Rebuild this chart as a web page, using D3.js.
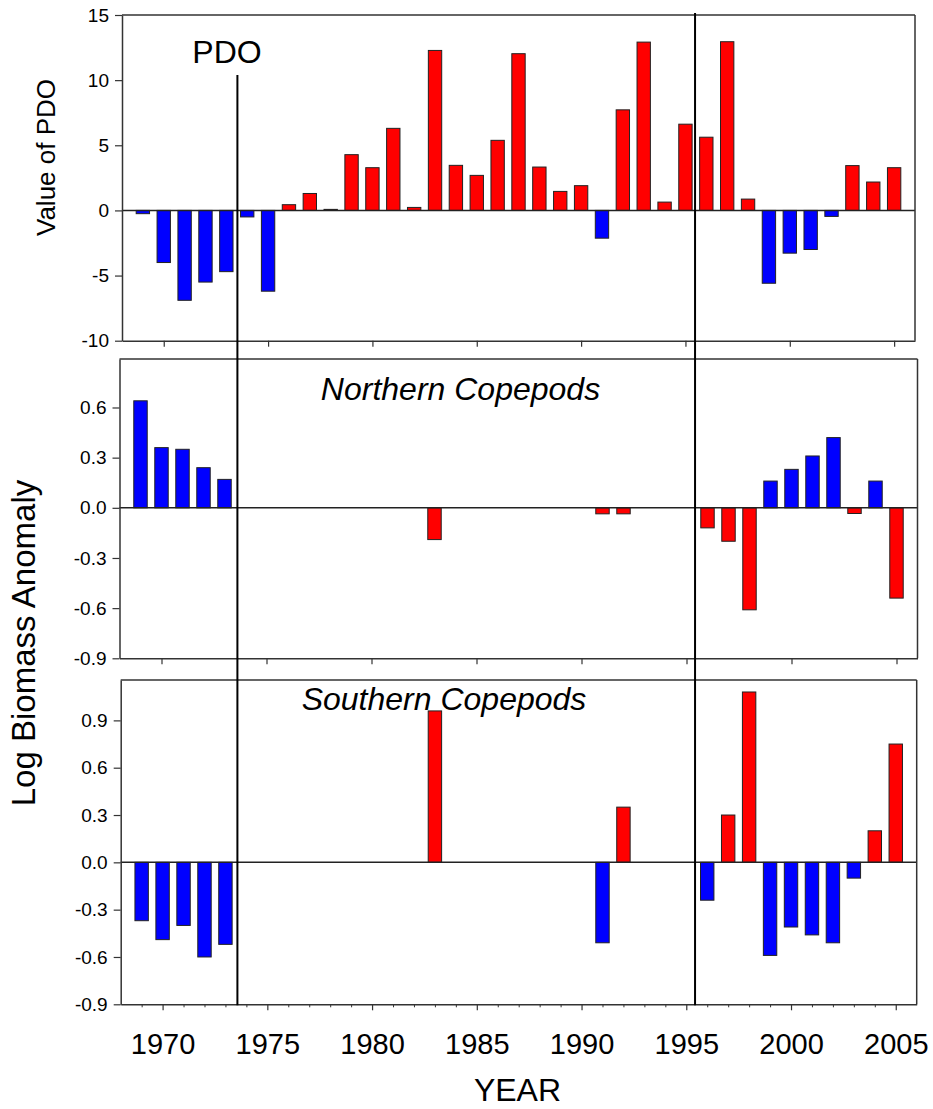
<!DOCTYPE html>
<html>
<head>
<meta charset="utf-8">
<script src="https://cdn.jsdelivr.net/npm/d3@7"></script>
<style>
  html, body { margin: 0; padding: 0; background: #fff; }
  svg { display: block; }
  text { font-family: "Liberation Sans", Arial, Helvetica, sans-serif; fill: #000; }
</style>
</head>
<body>
<svg id="chart" width="933" height="1109"></svg>
<script>
// ---- DATA ----
const pdoYears = [1969,1970,1971,1972,1973,1974,1975,1976,1977,1978,1979,1980,1981,1982,1983,1984,1985,1986,1987,1988,1989,1990,1991,1992,1993,1994,1995,1996,1997,1998,1999,2000,2001,2002,2003,2004,2005];
const pdoValues = [-0.25,-4.0,-6.9,-5.5,-4.7,-0.5,-6.2,0.44,1.3,0.08,4.28,3.28,6.3,0.23,12.28,3.46,2.69,5.38,12.03,3.33,1.46,1.9,-2.13,7.72,12.92,0.64,6.62,5.62,12.95,0.87,-5.59,-3.28,-3.0,-0.46,3.44,2.18,3.28];

const copYears = [1969,1970,1971,1972,1973,1983,1991,1992,1996,1997,1998,1999,2000,2001,2002,2003,2004,2005];
const northernValues = [0.64,0.36,0.35,0.24,0.17,-0.19,-0.036,-0.036,-0.12,-0.2,-0.61,0.16,0.23,0.31,0.42,-0.034,0.16,-0.54];
const southernValues = [-0.37,-0.49,-0.40,-0.60,-0.52,0.96,-0.51,0.35,-0.24,0.30,1.08,-0.59,-0.41,-0.46,-0.51,-0.10,0.20,0.75];

const pdoTicks = [-10,-5,0,5,10,15];
const northTicks = [-0.9,-0.6,-0.3,0.0,0.3,0.6];
const southTicks = [-0.9,-0.6,-0.3,0.0,0.3,0.6,0.9];
const yearTicks = [1970,1975,1980,1985,1990,1995,2000,2005];
const minorYears = [1969,1971,1972,1973,1974,1976,1977,1978,1979,1981,1982,1983,1984,1986,1987,1988,1989,1991,1992,1993,1994,1996,1997,1998,1999,2001,2002,2003,2004];
const regimeShifts = [1973.53, 1995.46];

const RED = "#ff0000", BLUE = "#0000ff";
const svg = d3.select("#chart");
const hyph = s => s.replace(/\u2212/g, "-");

const panels = [
  { key: "pdo", years: pdoYears, values: pdoValues, x0: 122, x1: 915, y0: 15, y1: 340.7,
    ydom: [-10, 15], ticks: pdoTicks, fmt: d => hyph(d3.format("d")(d)), posColor: RED, negColor: BLUE },
  { key: "north", years: copYears, values: northernValues, x0: 119.5, x1: 917.5, y0: 359, y1: 658.3,
    ydom: [-0.9, 0.89], ticks: northTicks, fmt: d => hyph(d3.format(".1f")(d)), posColor: BLUE, negColor: RED },
  { key: "south", years: copYears, values: southernValues, x0: 120.7, x1: 916.7, y0: 680, y1: 1004.3,
    ydom: [-0.9, 1.156], ticks: southTicks, fmt: d => hyph(d3.format(".1f")(d)), posColor: RED, negColor: BLUE }
];

const barW = 0.64; // in years
panels.forEach((p, i) => {
  const x = d3.scaleLinear().domain([1968, 2006]).range([p.x0, p.x1]);
  const y = d3.scaleLinear().domain(p.ydom).range([p.y1, p.y0]);
  p.x = x; p.y = y;
  const g = svg.append("g");

  // bars
  const data = p.years.map((yr, k) => ({ yr, v: p.values[k] }));
  g.selectAll("rect.bar").data(data).enter().append("rect")
    .attr("class", "bar")
    .attr("x", d => x(d.yr - barW / 2))
    .attr("width", d => x(d.yr + barW / 2) - x(d.yr - barW / 2))
    .attr("y", d => y(Math.max(0, d.v)))
    .attr("height", d => Math.abs(y(d.v) - y(0)))
    .attr("fill", d => d.v >= 0 ? p.posColor : p.negColor)
    .attr("stroke", "#222").attr("stroke-width", 1);

  // zero line
  g.append("line").attr("x1", p.x0).attr("x2", p.x1).attr("y1", y(0)).attr("y2", y(0))
    .attr("stroke", "#222").attr("stroke-width", 1.5);

  // frame top & right
  g.append("line").attr("x1", p.x0).attr("x2", p.x1).attr("y1", p.y0).attr("y2", p.y0)
    .attr("stroke", "#333").attr("stroke-width", 1.5);
  g.append("line").attr("x1", p.x1).attr("x2", p.x1).attr("y1", p.y0).attr("y2", p.y1)
    .attr("stroke", "#333").attr("stroke-width", 1.5);

  // y axis
  const ya = d3.axisLeft(y).tickValues(p.ticks).tickFormat(p.fmt).tickSize(7).tickPadding(6).tickSizeOuter(0);
  const yg = g.append("g").attr("transform", `translate(${p.x0},0)`).call(ya);
  yg.select(".domain").attr("stroke", "#333").attr("stroke-width", 1.5);
  yg.selectAll(".tick line").attr("stroke", "#333").attr("stroke-width", 1.2);
  yg.selectAll("text").style("font-size", "19px").attr("font-family", null);

  // x axis
  const isBottom = (i === panels.length - 1);
  const xa = d3.axisBottom(x).tickValues(yearTicks).tickSize(6).tickPadding(23).tickSizeOuter(0)
    .tickFormat(isBottom ? d3.format("d") : () => "");
  const xg = g.append("g").attr("transform", `translate(0,${p.y1})`).call(xa);
  xg.select(".domain").attr("stroke", "#333").attr("stroke-width", 1.5);
  xg.selectAll(".tick line").attr("stroke", "#333").attr("stroke-width", 1.2);
  xg.selectAll("text").style("font-size", "29px").attr("font-family", null);

  if (isBottom) {
    const xm = d3.axisBottom(x).tickValues(minorYears).tickSize(3).tickFormat(() => "").tickSizeOuter(0);
    const mg = g.append("g").attr("transform", `translate(0,${p.y1})`).call(xm);
    mg.select(".domain").remove();
    mg.selectAll(".tick line").attr("stroke", "#333").attr("stroke-width", 1);
  }
});

// regime shift vertical lines
const topPanel = panels[0], botPanel = panels[2];
svg.append("line")
  .attr("x1", topPanel.x(regimeShifts[0])).attr("x2", topPanel.x(regimeShifts[0]))
  .attr("y1", topPanel.y(10.4)).attr("y2", botPanel.y(-0.9) + 1)
  .attr("stroke", "#000").attr("stroke-width", 2);
svg.append("line")
  .attr("x1", topPanel.x(regimeShifts[1])).attr("x2", topPanel.x(regimeShifts[1]))
  .attr("y1", topPanel.y(15.15)).attr("y2", botPanel.y(-0.9) + 1)
  .attr("stroke", "#000").attr("stroke-width", 2);

// panel labels
svg.append("text").attr("x", 227).attr("y", 62.5).attr("text-anchor", "middle")
  .style("font-size", "32px").text("PDO");
svg.append("text").attr("x", 460.5).attr("y", 400).attr("text-anchor", "middle")
  .style("font-size", "32px").style("font-style", "italic").text("Northern Copepods");
svg.append("text").attr("x", 444).attr("y", 710).attr("text-anchor", "middle")
  .style("font-size", "32px").style("font-style", "italic").text("Southern Copepods");

// axis titles
svg.append("text").attr("transform", "translate(55,157.5) rotate(-90)").attr("text-anchor", "middle")
  .style("font-size", "26px").text("Value of PDO");
svg.append("text").attr("transform", "translate(35,643) rotate(-90)").attr("text-anchor", "middle")
  .style("font-size", "33px").text("Log Biomass Anomaly");
svg.append("text").attr("x", 517.5).attr("y", 1101).attr("text-anchor", "middle")
  .style("font-size", "32px").text("YEAR");
</script>
</body>
</html>
